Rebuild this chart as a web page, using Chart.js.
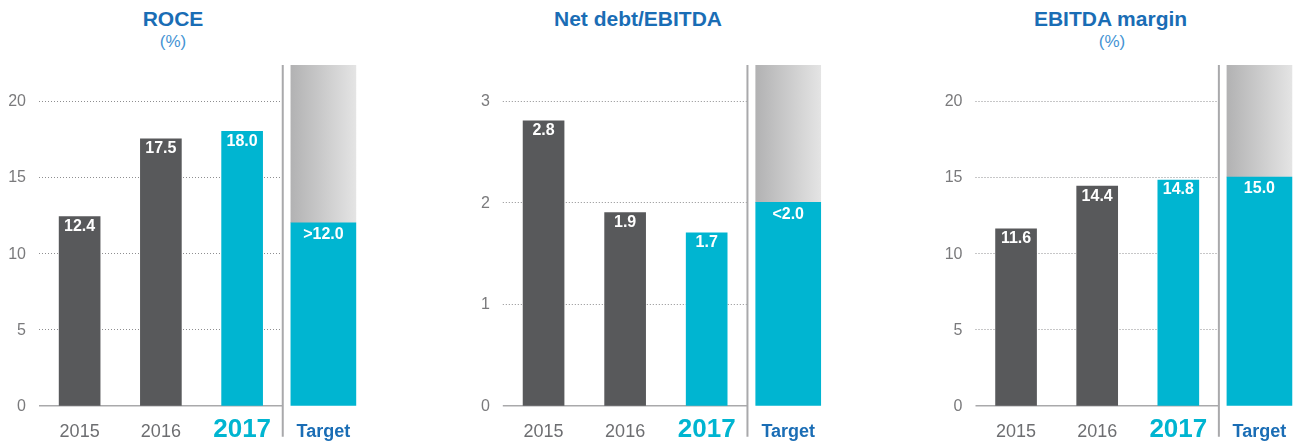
<!DOCTYPE html>
<html><head><meta charset="utf-8">
<script src="https://cdn.jsdelivr.net/npm/chart.js@4.4.1/dist/chart.umd.min.js"></script>
<style>
html,body{margin:0;padding:0;background:#fff;width:1296px;height:445px;overflow:hidden;position:relative;font-family:"Liberation Sans",Arial,Helvetica,sans-serif}
canvas{position:absolute;top:0}
.t{position:absolute;white-space:nowrap;transform:translateX(-50%);text-align:center}
.t1{font-weight:bold;font-size:21px;color:#1a6db5;line-height:21px;top:8px}
.t2{font-size:17px;color:#4593d3;line-height:17px;top:33px}
</style></head><body>
<div class="t t1" style="left:173px">ROCE</div>
<div class="t t2" style="left:173px">(%)</div>
<div class="t t1" style="left:638px">Net debt/EBITDA</div>
<div class="t t1" style="left:1110.5px">EBITDA margin</div>
<div class="t t2" style="left:1112px">(%)</div>
<canvas id="c1" width="366" height="445" style="left:0px"></canvas>
<canvas id="c2" width="371" height="445" style="left:460px"></canvas>
<canvas id="c3" width="372" height="445" style="left:930px"></canvas>
<script>
const categories = ['2015', '2016', '2017', 'Target'];

const roceValues = [12.4, 17.5, 18.0];
const roceTarget = 12.0;
const roceLabels = ['12.4', '17.5', '18.0', '>12.0'];
const roceMax = 22.35;
const roceStep = 5;

const netDebtValues = [2.8, 1.9, 1.7];
const netDebtTarget = 2.0;
const netDebtLabels = ['2.8', '1.9', '1.7', '<2.0'];
const netDebtMax = 3.35;
const netDebtStep = 1;

const marginValues = [11.6, 14.4, 14.8];
const marginTarget = 15.0;
const marginLabels = ['11.6', '14.4', '14.8', '15.0'];
const marginMax = 22.35;
const marginStep = 5;

const FONT = '"Liberation Sans", Arial, Helvetica, sans-serif';
const DARK = '#58595b';
const CYAN = '#00b5d1';
const BLUE = '#1a6db5';

const deco = {
  id: 'deco',
  beforeDatasetsDraw(chart) {
    const { ctx, chartArea: a, scales: { x, y } } = chart;
    const sep = (x.getPixelForValue(2) + x.getPixelForValue(3)) / 2;
    ctx.save();
    ctx.strokeStyle = '#8e8e90';
    ctx.lineWidth = 1;
    ctx.setLineDash([1, 2]);
    y.ticks.forEach(t => {
      if (t.value === 0) return;
      const py = Math.round(y.getPixelForValue(t.value)) + 0.5;
      ctx.beginPath(); ctx.moveTo(a.left, py); ctx.lineTo(sep, py); ctx.stroke();
    });
    ctx.setLineDash([]);
    const y0 = y.getPixelForValue(0);
    ctx.strokeStyle = '#a9a9ab';
    ctx.lineWidth = 1.5;
    ctx.beginPath(); ctx.moveTo(a.left, y0); ctx.lineTo(sep, y0); ctx.stroke();
    ctx.lineWidth = 2;
    ctx.beginPath(); ctx.moveTo(sep, a.top); ctx.lineTo(sep, a.bottom + 31); ctx.stroke();
    ctx.restore();
  },
  afterDatasetsDraw(chart, args, opts) {
    const { ctx } = chart;
    const labels = opts.labels;
    ctx.save();
    ctx.fillStyle = '#ffffff';
    ctx.font = 'bold 16px ' + FONT;
    ctx.textAlign = 'center';
    ctx.textBaseline = 'middle';
    const m0 = chart.getDatasetMeta(0);
    for (let i = 0; i < 3; i++) {
      const el = m0.data[i];
      ctx.fillText(labels[i], el.x, el.y + 10);
    }
    const m1 = chart.getDatasetMeta(1);
    const el = m1.data[3];
    ctx.fillText(labels[3], el.x, el.y + 12);
    ctx.restore();
  },
  afterDraw(chart) {
    const { ctx, scales: { x } } = chart;
    ctx.save();
    ctx.textAlign = 'center';
    ctx.textBaseline = 'alphabetic';
    categories.forEach((c, i) => {
      const px = x.getPixelForValue(i);
      if (i < 2) { ctx.font = '18px ' + FONT; ctx.fillStyle = '#6d6e71'; }
      else if (i === 2) { ctx.font = 'bold 26px ' + FONT; ctx.fillStyle = CYAN; }
      else { ctx.font = 'bold 18px ' + FONT; ctx.fillStyle = BLUE; }
      ctx.fillText(c, px, 436.5);
    });
    ctx.restore();
  }
};

function makeChart(id, values, target, labels, yMax, step, yWidth) {
  const ctx = document.getElementById(id).getContext('2d');
  return new Chart(ctx, {
    type: 'bar',
    data: {
      labels: categories,
      datasets: [
        {
          data: [values[0], values[1], values[2], null],
          backgroundColor: [DARK, DARK, CYAN, CYAN],
          barThickness: 41,
          grouped: false
        },
        {
          data: [null, null, null, target],
          backgroundColor: CYAN,
          barThickness: 65,
          grouped: false
        },
        {
          data: [null, null, null, [target, yMax]],
          backgroundColor: (c) => {
            const ch = c.chart;
            if (!ch.chartArea) return '#cccccc';
            const cx = ch.scales.x.getPixelForValue(3);
            const g = ch.ctx.createLinearGradient(cx - 32.5, 0, cx + 32.5, 0);
            g.addColorStop(0, '#b2b2b3');
            g.addColorStop(1, '#e4e4e4');
            return g;
          },
          barThickness: 65,
          grouped: false
        }
      ]
    },
    options: {
      responsive: false,
      animation: false,
      devicePixelRatio: 1,
      layout: { padding: { top: 65, bottom: 39.3, left: 0, right: 2 } },
      plugins: { legend: { display: false }, tooltip: { enabled: false }, deco: { labels } },
      scales: {
        x: { display: false },
        y: {
          min: 0, max: yMax,
          grid: { display: false, drawTicks: false },
          border: { display: false },
          ticks: { stepSize: step, includeBounds: false, padding: 13, labelOffset: 1, color: '#7a7a7c', font: { size: 16, family: FONT } },
          afterFit(s) { s.width = yWidth; }
        }
      }
    },
    plugins: [deco]
  });
}

makeChart('c1', roceValues, roceTarget, roceLabels, roceMax, roceStep, 39);
makeChart('c2', netDebtValues, netDebtTarget, netDebtLabels, netDebtMax, netDebtStep, 42.8);
makeChart('c3', marginValues, marginTarget, marginLabels, marginMax, marginStep, 45.5);
</script>
</body></html>
